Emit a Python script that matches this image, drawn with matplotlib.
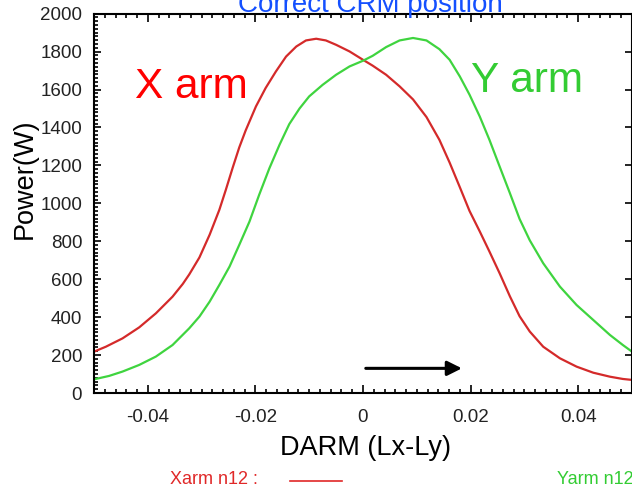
import matplotlib
matplotlib.use("Agg")
import matplotlib.pyplot as plt
from matplotlib.ticker import MultipleLocator

plt.rcParams['font.family'] = ['Liberation Sans', 'DejaVu Sans']

# values
x_red = [-0.05, -0.0478, -0.0447, -0.0416, -0.0385, -0.0354, -0.0335, -0.0323, -0.0304,
         -0.0285, -0.0267, -0.0255, -0.0242, -0.0230, -0.0218, -0.0199, -0.0181, -0.0162,
         -0.0143, -0.0124, -0.0106, -0.0087, -0.0069, -0.0050, -0.0025, 0.0,
         0.0018, 0.0043, 0.0068, 0.0093, 0.0118, 0.0142, 0.0161, 0.0180, 0.0198,
         0.0217, 0.0235, 0.0254, 0.0273, 0.0291, 0.0310, 0.0335, 0.0366, 0.0397,
         0.0428, 0.0459, 0.0483, 0.05]
y_red = [218, 244, 288, 346, 420, 508, 575, 625, 715,
         835, 966, 1071, 1190, 1295, 1385, 1511, 1608, 1695,
         1774, 1827, 1859, 1868, 1859, 1836, 1801, 1757,
         1726, 1678, 1617, 1548, 1455, 1335, 1215, 1085, 960,
         852, 746, 631, 510, 405, 324, 244, 183, 139,
         107, 86, 74, 69]

x_green = [-0.05, -0.0472, -0.0447, -0.0416, -0.0385, -0.0354, -0.0323, -0.0304, -0.0285,
           -0.0267, -0.0248, -0.0230, -0.0211, -0.0193, -0.0174, -0.0155, -0.0137, -0.0118,
           -0.0100, -0.0075, -0.0050, -0.0025, 0.0,
           0.0018, 0.0043, 0.0068, 0.0093, 0.0118, 0.0142, 0.0161, 0.0180, 0.0198,
           0.0217, 0.0235, 0.0254, 0.0273, 0.0291, 0.0310, 0.0335, 0.0366, 0.0397,
           0.0428, 0.0459, 0.0483, 0.05]
y_green = [72, 90, 113, 148, 192, 253, 341, 403, 482,
           570, 667, 781, 904, 1045, 1185, 1310, 1418, 1500,
           1564, 1625, 1678, 1722, 1752,
           1778, 1824, 1859, 1872, 1859, 1813, 1757, 1669, 1573,
           1458, 1335, 1194, 1054, 918, 805, 684, 561, 464,
           385, 306, 253, 218]

x_ticks = [-0.04, -0.02, 0, 0.02, 0.04]
x_ticklabels = ['-0.04', '-0.02', '0', '0.02', '0.04']
y_ticks = list(range(0, 2001, 200))

arrow_x = [0.0, 0.0189]
arrow_y = 130

W, H = 632, 492
fig = plt.figure(figsize=(W / 100, H / 100), dpi=100)
fig.patch.set_facecolor('white')
ax = fig.add_axes([94 / W, 1 - 393 / H, 538 / W, 379.3 / H])

ax.plot(x_red, y_red, color='#d42a2a', lw=1.6)
ax.plot(x_green, y_green, color='#3fd43f', lw=1.6)

ax.annotate('', xy=(arrow_x[1], arrow_y), xytext=(arrow_x[0], arrow_y),
            arrowprops=dict(arrowstyle='-|>', color='black', lw=2.2, mutation_scale=22))

ax.set_xlim(-0.05, 0.05)
ax.set_ylim(0, 2000)
ax.set_xticks(x_ticks)
ax.set_xticklabels(x_ticklabels)
ax.set_yticks(y_ticks)
ax.xaxis.set_minor_locator(MultipleLocator(0.002))
ax.yaxis.set_minor_locator(MultipleLocator(20))
ax.tick_params(which='both', direction='in', top=True, right=True,
               labelsize=13.5, labelcolor='#222222', width=1.2)
ax.tick_params(axis='y', which='major', length=5, pad=8.5)
ax.tick_params(axis='x', which='major', length=6, pad=11.5)
ax.tick_params(which='minor', length=3)
ax.tick_params(axis='y', which='minor', right=False)
for s in ax.spines.values():
    s.set_linewidth(1.5)

# labels and annotations (title is clipped by the top edge, as in the original)
fig.text(370 / W, 1 - 12 / H, 'Correct CRM position', color='#1450ff',
         fontsize=20, ha='center', va='baseline')
fig.text(135 / W, 1 - 98 / H, 'X arm', color='#ff0000', fontsize=30.5,
         ha='left', va='baseline')
fig.text(471 / W, 1 - 92 / H, 'Y arm', color='#33cc33', fontsize=30.5,
         ha='left', va='baseline')
fig.text(25 / W, 1 - 179 / H, 'Power(W)', fontsize=19.5, rotation=90,
         ha='center', va='center')
fig.text(365 / W, 1 - 455 / H, 'DARM (Lx-Ly)', fontsize=19.5,
         ha='center', va='baseline')

# bottom legend strip
fig.text(170 / W, 1 - 480 / H, 'Xarm n12 :', color='#e02828', fontsize=13,
         ha='left', va='center')
fig.add_artist(plt.Line2D([290 / W, 342 / W], [1 - 481 / H, 1 - 481 / H],
                          color='#e02828', lw=1.2, transform=fig.transFigure))
fig.text(557 / W, 1 - 480 / H, 'Yarm n12 :', color='#33cc33', fontsize=13,
         ha='left', va='center')

fig.savefig('out.png', dpi=100)
